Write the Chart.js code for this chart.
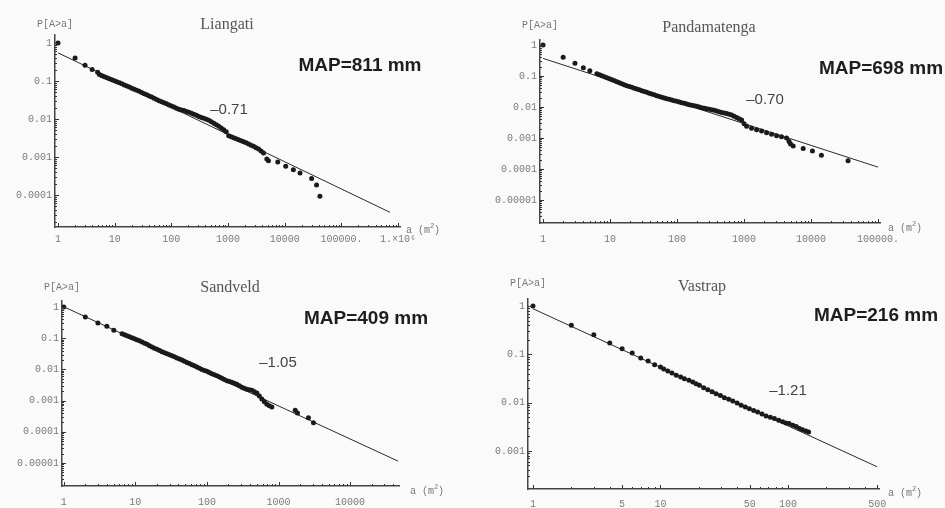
<!DOCTYPE html>
<html>
<head>
<meta charset="utf-8">
<title>P[A>a] rank plots</title>
<script src="https://cdn.jsdelivr.net/npm/chart.js@4.4.1/dist/chart.umd.min.js"></script>
<style>
  body { margin: 0; background: #fafafa; }
  #wrap { position: relative; width: 945px; height: 508px; overflow: hidden; background: #fafafa; }
  canvas { position: absolute; }
  .t { position: absolute; white-space: nowrap; transform: translate(-50%, -50%); }
  .title { font: 16px 'Liberation Serif', serif; color: #555; }
  .map { font: bold 19px 'Liberation Sans', Arial, sans-serif; color: #1e1e1e; }
  .slope { font: 15px 'Liberation Sans', Arial, sans-serif; color: #444; }
  .ax { font: 10px 'Liberation Mono', monospace; color: #777; }
  .ax sup { font-size: 7px; }
</style>
</head>
<body>
<div id="wrap">
  <canvas id="liangati" width="470" height="254" style="left:0;top:0"></canvas>
  <canvas id="pandamatenga" width="475" height="254" style="left:470px;top:0"></canvas>
  <canvas id="sandveld" width="470" height="254" style="left:0;top:254px"></canvas>
  <canvas id="vastrap" width="475" height="254" style="left:470px;top:254px"></canvas>

  <div class="t ax" style="left:55px;top:24px">P[A&gt;a]</div>
  <div class="t title" style="left:227px;top:24px">Liangati</div>
  <div class="t map" style="left:360px;top:65px">MAP=811 mm</div>
  <div class="t slope" style="left:229px;top:108px">–0.71</div>
  <div class="t ax" style="left:423px;top:229px">a (m<sup>2</sup>)</div>

  <div class="t ax" style="left:540px;top:25px">P[A&gt;a]</div>
  <div class="t title" style="left:709px;top:27px">Pandamatenga</div>
  <div class="t map" style="left:881px;top:68px">MAP=698 mm</div>
  <div class="t slope" style="left:765px;top:98px">–0.70</div>
  <div class="t ax" style="left:905px;top:227px">a (m<sup>2</sup>)</div>

  <div class="t ax" style="left:62px;top:287px">P[A&gt;a]</div>
  <div class="t title" style="left:230px;top:287px">Sandveld</div>
  <div class="t map" style="left:366px;top:318px">MAP=409 mm</div>
  <div class="t slope" style="left:278px;top:361px">–1.05</div>
  <div class="t ax" style="left:427px;top:490px">a (m<sup>2</sup>)</div>

  <div class="t ax" style="left:528px;top:283px">P[A&gt;a]</div>
  <div class="t title" style="left:702px;top:286px">Vastrap</div>
  <div class="t map" style="left:876px;top:315px">MAP=216 mm</div>
  <div class="t slope" style="left:788px;top:389px">–1.21</div>
  <div class="t ax" style="left:905px;top:492px">a (m<sup>2</sup>)</div>
</div>

<script>
// Liangati (MAP 811 mm)
const liangatiArea = [1, 2, 3, 4, 5, 5.38, 5.95, 6.59, 7.29, 8.06,
  8.92, 9.87, 10.9, 12.1, 13.4, 14.8, 16.4, 18.1, 20.0, 22.1,
  24.5, 27.1, 29.9, 33.1, 36.7, 40.6, 44.9, 49.6, 54.9, 60.8,
  67.2, 74.3, 82.2, 91, 100.5, 111, 123, 136, 151, 167,
  185, 204, 226, 250, 277, 306, 338, 374, 414, 458,
  507, 561, 620, 686, 759, 839, 929, 1028, 1137, 1257,
  1390, 1538, 1702, 1884, 2084, 2305, 2549, 2818, 3118, 3451,
  3819, 4227, 4830, 5165, 7530, 10400, 14200, 18600, 29800, 36400,
  41700];
const liangatiProb = [1, 0.40, 0.26, 0.20, 0.17, 0.147, 0.138, 0.130, 0.122, 0.115,
  0.108, 0.102, 0.096, 0.0904, 0.0842, 0.0785, 0.0739, 0.0695, 0.0648, 0.0604,
  0.0568, 0.0535, 0.0498, 0.0464, 0.0432, 0.0403, 0.0376, 0.0350, 0.0326, 0.0303,
  0.0285, 0.0269, 0.0250, 0.0233, 0.0220, 0.0207, 0.0193, 0.0180, 0.0173, 0.0166,
  0.0158, 0.0150, 0.0141, 0.0133, 0.0125, 0.0117, 0.0110, 0.0104, 0.0098, 0.0092,
  0.0084, 0.0077, 0.0070, 0.0064, 0.0058, 0.0052, 0.0046, 0.0036, 0.0034, 0.0032,
  0.0030, 0.00286, 0.00269, 0.00253, 0.00236, 0.00220, 0.00205, 0.00191, 0.00176, 0.00163,
  0.00144, 0.00127, 0.00089, 0.0008, 0.00074, 0.00057, 0.00046, 0.00038, 0.00027, 0.000183,
  0.0000923];
const liangatiFitArea = [1, 720000];
const liangatiFitProb = [0.55, 0.000035];
const liangatiXTicks = [1, 10, 100, 1000, 10000, 100000, 1000000];
const liangatiXLabels = ['1', '10', '100', '1000', '10000', '100000.', '1.×10⁶'];
const liangatiYTicks = [1, 0.1, 0.01, 0.001, 0.0001];
const liangatiYLabels = ['1', '0.1', '0.01', '0.001', '0.0001'];

// Pandamatenga (MAP 698 mm)
const pandaArea = [1, 2, 3, 4, 5, 6.37, 6.94, 7.57, 8.24, 8.98,
  9.80, 10.7, 11.7, 12.7, 13.8, 15.0, 16.3, 17.8, 19.4, 21.2,
  23.1, 25.1, 27.3, 29.8, 32.5, 35.4, 38.6, 42.0, 45.8, 49.9,
  54.4, 59.3, 64.6, 70.3, 76.6, 83.5, 91.0, 99.1, 108, 118,
  128.5, 140, 152, 166, 181, 197, 215, 234, 255, 277,
  302, 329, 359, 391, 426, 464, 506, 551, 600, 654,
  712, 776, 845, 921, 1003, 1093, 1298, 1541, 1829, 2172,
  2578, 3060, 3632, 4313, 4700, 4950, 5420, 7640, 10500, 14300,
  35700];
const pandaProb = [1, 0.40, 0.256, 0.186, 0.149, 0.119, 0.110, 0.1025, 0.0951, 0.0883,
  0.0820, 0.0762, 0.0708, 0.0657, 0.0610, 0.0566, 0.0526, 0.0488, 0.0459, 0.0431,
  0.0405, 0.0381, 0.0358, 0.0337, 0.0316, 0.0297, 0.0279, 0.0263, 0.0247, 0.0232,
  0.0218, 0.0205, 0.0195, 0.0186, 0.0177, 0.0168, 0.0160, 0.0152, 0.0145, 0.0138,
  0.0131, 0.0125, 0.0119, 0.0113, 0.0109, 0.0105, 0.0100, 0.0095, 0.0091, 0.0088,
  0.0085, 0.0082, 0.0078, 0.0074, 0.0070, 0.0067, 0.0064, 0.0062, 0.0058, 0.0055,
  0.0050, 0.0046, 0.0042, 0.0038, 0.0029, 0.0024, 0.00205, 0.00186, 0.00168, 0.00149,
  0.00131, 0.00119, 0.0011, 0.0010, 0.00077, 0.00064, 0.00055, 0.00046, 0.00038, 0.00028,
  0.000186];
const pandaFitArea = [1, 100000];
const pandaFitProb = [0.37, 0.000115];
const pandaXTicks = [1, 10, 100, 1000, 10000, 100000];
const pandaXLabels = ['1', '10', '100', '1000', '10000', '100000.'];
const pandaYTicks = [1, 0.1, 0.01, 0.001, 0.0001, 0.00001];
const pandaYLabels = ['1', '0.1', '0.01', '0.001', '0.0001', '0.00001'];

// Sandveld (MAP 409 mm)
const sandArea = [1, 2, 3, 4, 5, 6.52, 7.06, 7.65, 8.29, 8.98,
  9.71, 10.5, 11.4, 12.4, 13.5, 14.6, 15.8, 17.1, 18.5, 20.1,
  21.8, 23.6, 25.6, 27.7, 30.0, 32.5, 35.2, 38.1, 41.3, 44.8,
  48.5, 52.6, 57.0, 61.8, 66.9, 72.5, 78.5, 85.1, 92.2, 100,
  108, 117, 127, 138, 150, 162, 175, 190, 206, 223,
  242, 262, 284, 308, 333, 361, 392, 425, 460, 499,
  540, 585, 634, 687, 745, 807, 1710, 1842, 2620, 3080];
const sandProb = [1.0, 0.48, 0.31, 0.24, 0.18, 0.140, 0.130, 0.1206, 0.112, 0.104,
  0.0966, 0.0897, 0.0823, 0.0755, 0.0693, 0.0636, 0.0576, 0.0522, 0.0479, 0.0440,
  0.0403, 0.0370, 0.0344, 0.0319, 0.0296, 0.0275, 0.0253, 0.0232, 0.0215, 0.0200,
  0.0183, 0.0168, 0.0154, 0.0142, 0.0130, 0.0119, 0.0109, 0.0100, 0.0093, 0.0087,
  0.0080, 0.0073, 0.0068, 0.0063, 0.0057, 0.0052, 0.00476, 0.00435, 0.00409, 0.00385,
  0.00358, 0.00332, 0.00297, 0.00266, 0.00247, 0.0023, 0.00221, 0.00213, 0.00193, 0.00175,
  0.0014, 0.00112, 0.00092, 0.00076, 0.00069, 0.00062, 0.00049, 0.00040, 0.000284, 0.000196];
const sandFitArea = [1, 46700];
const sandFitProb = [1.02, 0.0000115];
const sandXTicks = [1, 10, 100, 1000, 10000];
const sandXLabels = ['1', '10', '100', '1000', '10000'];
const sandYTicks = [1, 0.1, 0.01, 0.001, 0.0001, 0.00001];
const sandYLabels = ['1', '0.1', '0.01', '0.001', '0.0001', '0.00001'];

// Vastrap (MAP 216 mm)
const vastArea = [1, 2, 3, 4, 5, 6, 7, 8, 9, 10, 10.6, 11.4, 12.3, 13.3, 14.4, 15.4, 16.7, 17.9, 19.0, 20.2,
  21.8, 23.5, 25.4, 27.3, 29.5, 31.7, 34.3, 36.9, 39.9, 42.9, 46.3, 49.8, 53.8, 57.8, 62.5, 67.3, 72.7, 78.2, 84.5, 90.8,
  96.4, 102, 109, 116, 123, 130, 138, 145];
const vastProb = [1.0, 0.40, 0.255, 0.171, 0.131, 0.107, 0.084, 0.073, 0.061, 0.055, 0.0497, 0.0452, 0.0411, 0.0368, 0.0340, 0.0314, 0.0290, 0.0268, 0.0247, 0.0228,
  0.0204, 0.0186, 0.0169, 0.0153, 0.0140, 0.0127, 0.0117, 0.0108, 0.0098, 0.0088, 0.0081, 0.0075, 0.0069, 0.0064, 0.0058, 0.0053, 0.0050, 0.0047, 0.0043, 0.0040,
  0.0038, 0.0037, 0.0034, 0.0032, 0.0029, 0.00276, 0.0026, 0.00247];
const vastFitArea = [1, 500];
const vastFitProb = [0.88, 0.00047];
const vastXTicks = [1, 5, 10, 50, 100, 500];
const vastXLabels = ['1', '5', '10', '50', '100', '500'];
const vastYTicks = [1, 0.1, 0.01, 0.001];
const vastYLabels = ['1', '0.1', '0.01', '0.001'];

function labelFor(value, ticks, labels) {
  for (let i = 0; i < ticks.length; i++) {
    if (Math.abs(value - ticks[i]) < ticks[i] * 1e-6) return labels[i];
  }
  return '';
}

// Mathematica style: short tick marks pointing into the plot, at 1..9 x 10^k
const inwardTicks = {
  id: 'inwardTicks',
  afterDraw(chart) {
    const ctx = chart.ctx;
    ctx.save();
    ctx.strokeStyle = '#333';
    ctx.lineWidth = 1;
    ['x', 'y'].forEach(id => {
      const scale = chart.scales[id];
      const lbls = chart.options.scales[id].tickSet;
      scale.ticks.forEach(t => {
        const v = t.value;
        const m = v / Math.pow(10, Math.floor(Math.log10(v) + 1e-9));
        if (Math.abs(m - Math.round(m)) > 1e-6) return;
        const len = labelFor(v, lbls[0], lbls[1]) ? 4 : 2;
        const p = Math.round(scale.getPixelForValue(v)) + 0.5;
        ctx.beginPath();
        if (id === 'x') {
          ctx.moveTo(p, scale.top);
          ctx.lineTo(p, scale.top - len);
        } else {
          ctx.moveTo(scale.right, p);
          ctx.lineTo(scale.right + len, p);
        }
        ctx.stroke();
      });
    });
    ctx.restore();
  }
};

function makePanel(id, p) {
  const ctx = document.getElementById(id).getContext('2d');
  const tickFont = {family: "'Liberation Mono', monospace", size: 10};
  return new Chart(ctx, {
    type: 'scatter',
    data: {
      datasets: [
        {
          data: p.area.map((a, i) => ({x: a, y: p.prob[i]})),
          pointRadius: 2.5,
          pointBackgroundColor: '#1a1a1a',
          pointBorderWidth: 0
        },
        {
          data: p.fitArea.map((a, i) => ({x: a, y: p.fitProb[i]})),
          showLine: true,
          borderColor: '#2a2a2a',
          borderWidth: 1,
          pointRadius: 0
        }
      ]
    },
    options: {
      responsive: false,
      animation: false,
      devicePixelRatio: 1,
      events: [],
      layout: {padding: {left: 0, top: p.top, right: p.right, bottom: 0}},
      plugins: {legend: {display: false}, tooltip: {enabled: false}},
      scales: {
        x: {
          type: 'logarithmic',
          min: p.xMin,
          max: p.xMax,
          tickSet: [p.xTicks, p.xLabels],
          afterFit: s => { s.height = p.bottom; },
          grid: {display: false, drawTicks: false},
          border: {color: '#444', width: 1.5},
          ticks: {
            autoSkip: false,
            maxRotation: 0,
            padding: p.xPad,
            font: tickFont,
            color: '#7a7a7a',
            callback: v => labelFor(v, p.xTicks, p.xLabels)
          }
        },
        y: {
          type: 'logarithmic',
          min: p.yMin,
          max: p.yMax,
          tickSet: [p.yTicks, p.yLabels],
          afterFit: s => { s.width = p.left; },
          grid: {display: false, drawTicks: false},
          border: {color: '#444', width: 1.5},
          ticks: {
            autoSkip: false,
            padding: 3,
            font: tickFont,
            color: '#7a7a7a',
            callback: v => labelFor(v, p.yTicks, p.yLabels)
          }
        }
      }
    },
    plugins: [inwardTicks]
  });
}

makePanel('liangati', {
  area: liangatiArea, prob: liangatiProb, fitArea: liangatiFitArea, fitProb: liangatiFitProb,
  xTicks: liangatiXTicks, xLabels: liangatiXLabels, yTicks: liangatiYTicks, yLabels: liangatiYLabels,
  xMin: 0.885, xMax: 1.08e6, yMin: 1.44e-5, yMax: 1.62,
  left: 55, top: 35, right: 70, bottom: 27, xPad: 6
});
makePanel('pandamatenga', {
  area: pandaArea, prob: pandaProb, fitArea: pandaFitArea, fitProb: pandaFitProb,
  xTicks: pandaXTicks, xLabels: pandaXLabels, yTicks: pandaYTicks, yLabels: pandaYLabels,
  xMin: 0.902, xMax: 1.07e5, yMin: 1.81e-6, yMax: 1.45,
  left: 70, top: 40, right: 65, bottom: 31, xPad: 10
});
makePanel('sandveld', {
  area: sandArea, prob: sandProb, fitArea: sandFitArea, fitProb: sandFitProb,
  xTicks: sandXTicks, xLabels: sandXLabels, yTicks: sandYTicks, yLabels: sandYLabels,
  xMin: 0.945, xMax: 4.82e4, yMin: 1.83e-6, yMax: 1.56,
  left: 62, top: 47, right: 71, bottom: 22, xPad: 10
});
makePanel('vastrap', {
  area: vastArea, prob: vastProb, fitArea: vastFitArea, fitProb: vastFitProb,
  xTicks: vastXTicks, xLabels: vastXLabels, yTicks: vastYTicks, yLabels: vastYLabels,
  xMin: 0.914, xMax: 517, yMin: 1.63e-4, yMax: 1.40,
  left: 58, top: 45, right: 66, bottom: 19, xPad: 9
});
</script>
</body>
</html>
